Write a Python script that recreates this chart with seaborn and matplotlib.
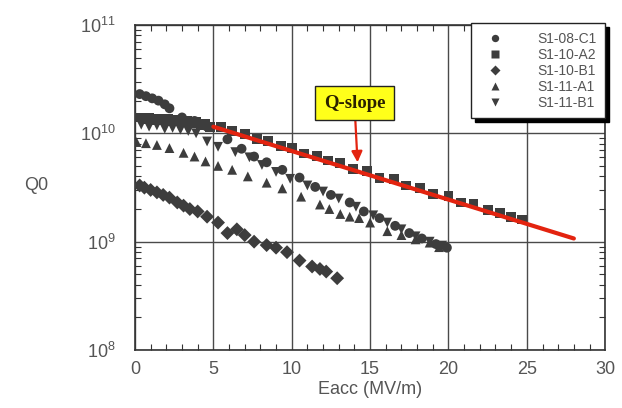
import numpy as np
import pandas as pd
import matplotlib
matplotlib.use('Agg')
import matplotlib.pyplot as plt
from matplotlib.ticker import LogLocator, MultipleLocator
import seaborn as sns

# ---------- data ----------
c1_x = [0.3, 0.7, 1.1, 1.5, 1.9, 2.2, 3.0, 3.8, 4.6, 5.9, 6.8, 7.6, 8.4, 9.4, 10.5,
        11.5, 12.5, 13.7, 14.6, 15.6, 16.6, 17.5, 18.3, 19.2, 19.9]
c1_y = [2.3e10, 2.2e10, 2.1e10, 2.0e10, 1.85e10, 1.7e10, 1.4e10, 1.3e10, 1.15e10, 8.8e9,
        7.2e9, 6.1e9, 5.4e9, 4.6e9, 3.9e9, 3.2e9, 2.7e9, 2.3e9, 1.9e9, 1.65e9,
        1.4e9, 1.2e9, 1.07e9, 9.5e8, 8.8e8]

a2_x = [0.3, 0.6, 0.9, 1.2, 1.5, 1.8, 2.1, 2.4, 2.7, 3.0, 3.3, 3.6, 3.9, 4.2, 4.5, 4.8,
        5.5, 6.2, 7.0, 7.8, 8.5, 9.3, 10.0, 10.8, 11.6, 12.3, 13.1, 13.9, 14.8, 15.6,
        16.5, 17.3, 18.2, 19.0, 20.0, 20.8, 21.6, 22.5, 23.3, 24.0, 24.7]
a2_y = [1.4e10, 1.35e10, 1.38e10, 1.33e10, 1.36e10, 1.32e10, 1.35e10, 1.3e10, 1.33e10,
        1.28e10, 1.3e10, 1.25e10, 1.27e10, 1.2e10, 1.22e10, 1.15e10,
        1.15e10, 1.05e10, 9.9e9, 8.9e9, 8.5e9, 7.6e9, 7.3e9, 6.5e9, 6.2e9, 5.6e9,
        5.3e9, 4.7e9, 4.5e9, 3.9e9, 3.8e9, 3.3e9, 3.15e9, 2.75e9, 2.65e9, 2.3e9,
        2.25e9, 1.95e9, 1.85e9, 1.7e9, 1.6e9]

b1_x = [0.3, 0.6, 1.0, 1.4, 1.8, 2.2, 2.7, 3.1, 3.5, 4.0, 4.6, 5.3, 5.9, 6.5, 7.0, 7.6,
        8.4, 9.0, 9.7, 10.5, 11.3, 11.8, 12.2, 12.9]
b1_y = [3.3e9, 3.15e9, 3.0e9, 2.85e9, 2.7e9, 2.55e9, 2.3e9, 2.15e9, 2.0e9, 1.9e9,
        1.7e9, 1.5e9, 1.2e9, 1.3e9, 1.15e9, 1.0e9, 9.3e8, 8.8e8, 8.0e8, 6.7e8,
        5.9e8, 5.6e8, 5.3e8, 4.6e8]

a1_x = [0.1, 0.7, 1.4, 2.2, 3.1, 3.8, 4.5, 5.3, 6.2, 7.2, 8.4, 9.4, 10.6, 11.8, 12.4,
        13.1, 13.7, 14.3, 15.0, 16.1, 17.0, 17.9, 18.8, 19.4]
a1_y = [8.3e9, 8.1e9, 7.8e9, 7.3e9, 6.6e9, 6.1e9, 5.5e9, 5.0e9, 4.6e9, 4.0e9, 3.5e9,
        3.1e9, 2.6e9, 2.2e9, 2.0e9, 1.8e9, 1.7e9, 1.65e9, 1.5e9, 1.25e9, 1.15e9,
        1.05e9, 9.8e8, 8.9e8]

b1v_x = [0.4, 0.9, 1.4, 1.9, 2.4, 2.9, 3.4, 3.9, 4.6, 5.3, 6.4, 7.3, 8.1, 9.0, 9.9,
         11.0, 12.0, 13.0, 14.1, 15.2, 16.1, 17.0, 17.9, 18.8, 19.6]
b1v_y = [1.2e10, 1.15e10, 1.18e10, 1.1e10, 1.12e10, 1.08e10, 1.05e10, 1.0e10, 8.4e9,
         7.5e9, 6.7e9, 6.0e9, 5.1e9, 4.4e9, 3.8e9, 3.3e9, 2.9e9, 2.5e9, 2.1e9,
         1.75e9, 1.5e9, 1.3e9, 1.12e9, 1.0e9, 9.2e8]

cavities = ['S1-08-C1', 'S1-10-A2', 'S1-10-B1', 'S1-11-A1', 'S1-11-B1']
series_x = [c1_x, a2_x, b1_x, a1_x, b1v_x]
series_y = [c1_y, a2_y, b1_y, a1_y, b1v_y]

qslope_x = [5, 28]
qslope_y = [1.15e10, 1.07e9]

frames = []
for name, xs, ys in zip(cavities, series_x, series_y):
    frames.append(pd.DataFrame({'Eacc': xs, 'Q0': ys, 'cavity': name}))
df = pd.concat(frames, ignore_index=True)

# ---------- plot ----------
sns.set_theme(style="ticks")
plt.rcParams['font.family'] = ['Liberation Sans', 'DejaVu Sans']

fig = plt.figure(figsize=(6.22, 4.08), dpi=100)
ax = fig.add_axes([0.217, 0.142, 0.756, 0.797])

markers = {'S1-08-C1': 'o', 'S1-10-A2': 's', 'S1-10-B1': 'D', 'S1-11-A1': '^', 'S1-11-B1': 'v'}
sns.scatterplot(data=df, x='Eacc', y='Q0', style='cavity', style_order=cavities,
                markers=markers, color='#3d3d3d', s=50, edgecolor='none', ax=ax, zorder=3)

ax.plot(qslope_x, qslope_y, color='#e3230f', lw=3, zorder=4)

ax.set_yscale('log')
ax.set_xlim(0, 30)
ax.set_ylim(1e8, 1e11)
ax.xaxis.set_major_locator(MultipleLocator(5))
ax.xaxis.set_minor_locator(MultipleLocator(1))
ax.yaxis.set_major_locator(LogLocator(base=10))
ax.yaxis.set_minor_locator(LogLocator(base=10, subs=np.arange(2, 10)))

ax.grid(True, which='major', color='#4a4a4a', lw=1.0)
ax.tick_params(which='both', direction='in', top=True, right=True, colors='#333333',
               labelcolor='#555555', labelsize=13)
ax.tick_params(which='major', length=0)
ax.tick_params(axis='x', which='major', pad=8)
ax.tick_params(axis='y', which='major', pad=14)
ax.tick_params(which='minor', length=4, width=0.8)
for sp in ax.spines.values():
    sp.set_color('#333333')
    sp.set_linewidth(1.2)

ax.set_xlabel('Eacc (MV/m)', fontsize=13, color='#555555', labelpad=2)
ax.set_ylabel('Q0', fontsize=13, color='#555555', rotation=0)
ax.yaxis.set_label_coords(-0.21, 0.48)

ax.annotate('Q-slope', xy=(14.2, 5.4e9), xytext=(14.0, 1.9e10),
            ha='center', va='center', fontsize=13.5, fontweight='bold',
            family=['Liberation Serif', 'DejaVu Serif'], color='#2a2000',
            bbox=dict(boxstyle='square,pad=0.45', fc='#ffff1a', ec='#222222', lw=1),
            arrowprops=dict(arrowstyle='-|>', color='#e3230f', lw=1.6,
                            mutation_scale=16, shrinkA=0, shrinkB=0), zorder=5)

leg = ax.legend(loc='upper right', bbox_to_anchor=(1.0, 1.005), frameon=True,
                fontsize=10, markerscale=0.75, handletextpad=2.0, borderpad=0.6,
                borderaxespad=0, labelspacing=0.15, handlelength=2.2,
                fancybox=False, shadow={'color': 'black', 'alpha': 1, 'ox': 3, 'oy': -3},
                title=None)
leg.get_frame().set_edgecolor('#222222')
leg.get_frame().set_linewidth(1)
for t in leg.get_texts():
    t.set_color('#555555')

fig.savefig('out.png', dpi=100, facecolor='white')
